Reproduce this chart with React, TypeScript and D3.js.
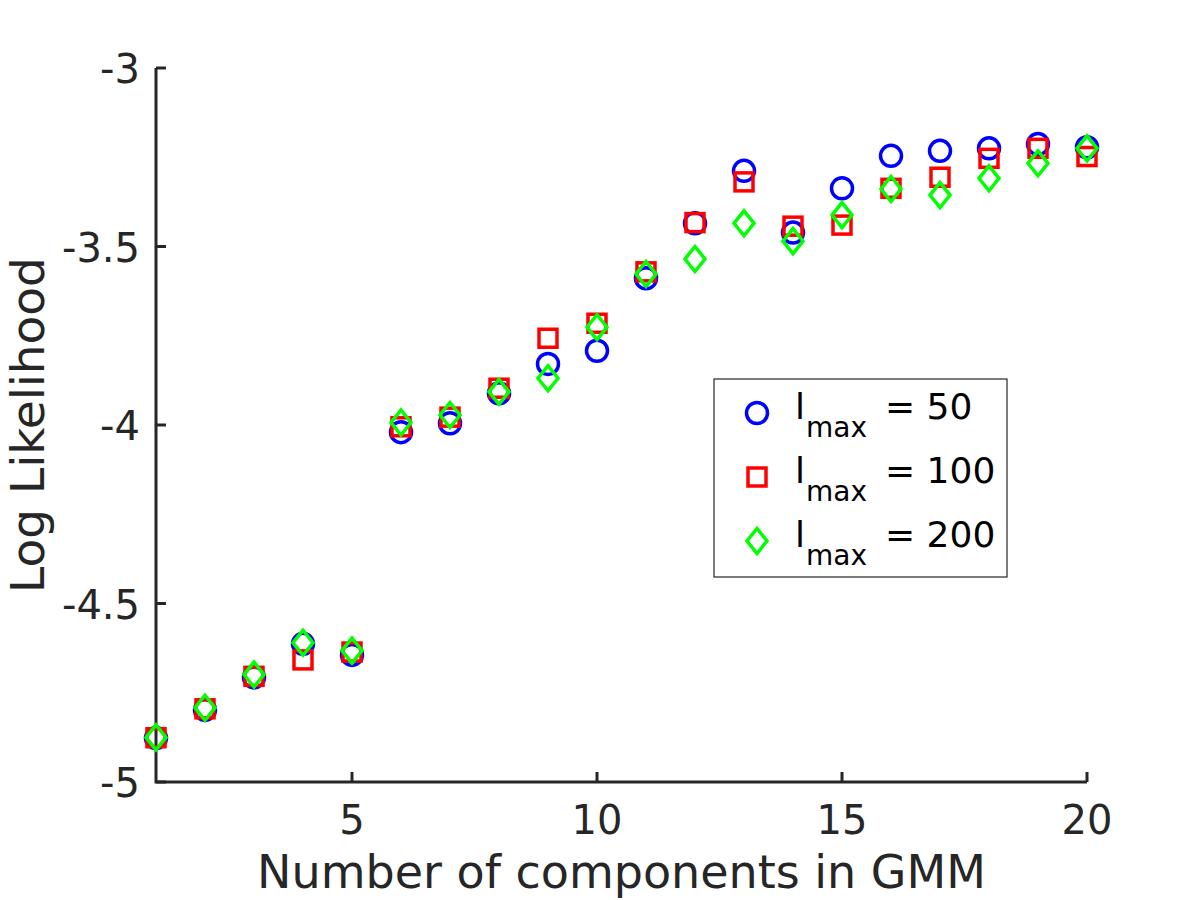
import { useMemo } from 'react';
import * as d3 from 'd3';

const W = 1200;
const H = 900;
const MARGIN = { top: 68, right: 113, bottom: 118, left: 156 };

// number of GMM components
const components = [1, 2, 3, 4, 5, 6, 7, 8, 9, 10, 11, 12, 13, 14, 15, 16, 17, 18, 19, 20];

// log likelihood per maximum iteration setting
const llMax50 = [
  -4.877, -4.798, -4.707, -4.613, -4.644, -4.02, -3.995, -3.911, -3.829, -3.792,
  -3.589, -3.435, -3.288, -3.461, -3.337, -3.246, -3.232, -3.225, -3.213, -3.222,
];
const llMax100 = [
  -4.876, -4.795, -4.704, -4.658, -4.636, -4.005, -3.978, -3.897, -3.757, -3.715,
  -3.571, -3.433, -3.319, -3.443, -3.44, -3.337, -3.306, -3.253, -3.225, -3.248,
];
const llMax200 = [
  -4.875, -4.792, -4.699, -4.61, -4.632, -3.993, -3.972, -3.907, -3.869, -3.726,
  -3.577, -3.535, -3.435, -3.485, -3.412, -3.339, -3.356, -3.309, -3.267, -3.225,
];

const xTicks = [5, 10, 15, 20];
const yTicks = [-5, -4.5, -4, -3.5, -3];
const legendValues = ['50', '100', '200'];

const INK = '#262626';
const FONT = '"DejaVu Sans", Verdana, sans-serif';

type Shape = 'circle' | 'square' | 'diamond';

const Marker = ({ x, y, shape, color }: { x: number; y: number; shape: Shape; color: string }) => {
  if (shape === 'circle') {
    return <circle cx={x} cy={y} r={10.5} fill="none" stroke={color} strokeWidth={3.5} />;
  }
  if (shape === 'square') {
    return <rect x={x - 9} y={y - 9} width={18} height={18} fill="none" stroke={color} strokeWidth={3.5} />;
  }
  return (
    <path
      d={`M${x},${y - 12.5}L${x + 10},${y}L${x},${y + 12.5}L${x - 10},${y}Z`}
      fill="none"
      stroke={color}
      strokeWidth={3.5}
    />
  );
};

export default function App() {
  const boundsWidth = W - MARGIN.left - MARGIN.right;
  const boundsHeight = H - MARGIN.top - MARGIN.bottom;

  const xScale = useMemo(() => d3.scaleLinear().domain([1, 20]).range([0, boundsWidth]), [boundsWidth]);
  const yScale = useMemo(() => d3.scaleLinear().domain([-5, -3]).range([boundsHeight, 0]), [boundsHeight]);

  const series: { values: number[]; shape: Shape; color: string }[] = [
    { values: llMax50, shape: 'circle', color: '#0000ff' },
    { values: llMax100, shape: 'square', color: '#ff0000' },
    { values: llMax200, shape: 'diamond', color: '#00ff00' },
  ];

  const legendLeft = 714 - MARGIN.left;
  const legendTop = 379 - MARGIN.top;
  const rowGap = 64;

  return (
    <svg
      width={W}
      height={H}
      style={{ position: 'absolute', left: 0, top: 0, background: '#fff' }}
      fontFamily={FONT}
    >
      <g transform={`translate(${MARGIN.left},${MARGIN.top})`}>
        {/* axes */}
        <path
          d={`M0,0V${boundsHeight}H${boundsWidth}`}
          fill="none"
          stroke={INK}
          strokeWidth={3}
        />
        {xTicks.map((t) => (
          <g key={t} transform={`translate(${xScale(t)},${boundsHeight})`}>
            <line y2={-10} stroke={INK} strokeWidth={3} />
            <text y={52} textAnchor="middle" fontSize={40} fill={INK}>
              {t}
            </text>
          </g>
        ))}
        {yTicks.map((t) => (
          <g key={t} transform={`translate(0,${yScale(t)})`}>
            <line x2={10} stroke={INK} strokeWidth={3} />
            <text x={-16} y={15} textAnchor="end" fontSize={40} fill={INK}>
              {t}
            </text>
          </g>
        ))}
        <text
          x={boundsWidth / 2}
          y={boundsHeight + 106}
          textAnchor="middle"
          fontSize={46}
          fill={INK}
        >
          Number of components in GMM
        </text>
        <text
          transform={`translate(${44 - MARGIN.left},${boundsHeight / 2}) rotate(-90)`}
          textAnchor="middle"
          fontSize={47}
          fill={INK}
        >
          Log Likelihood
        </text>

        {/* markers */}
        {series.map((s) => (
          <g key={s.shape}>
            {components.map((c, i) => (
              <Marker key={c} x={xScale(c)} y={yScale(s.values[i])} shape={s.shape} color={s.color} />
            ))}
          </g>
        ))}

        {/* legend */}
        <g transform={`translate(${legendLeft},${legendTop})`}>
          <rect x={0} y={0} width={293} height={198} fill="#fff" stroke={INK} strokeWidth={1.2} />
          {series.map((s, i) => (
            <g key={s.shape} transform={`translate(0,${34 + i * rowGap})`}>
              <Marker x={43} y={0} shape={s.shape} color={s.color} />
              <text x={81} y={6} fontSize={36} fill="#000">
                l
              </text>
              <text x={92} y={24} fontSize={28} fill="#000">
                max
              </text>
              <text x={171} y={6} fontSize={36} fill="#000">
                = {legendValues[i]}
              </text>
            </g>
          ))}
        </g>
      </g>
    </svg>
  );
}
